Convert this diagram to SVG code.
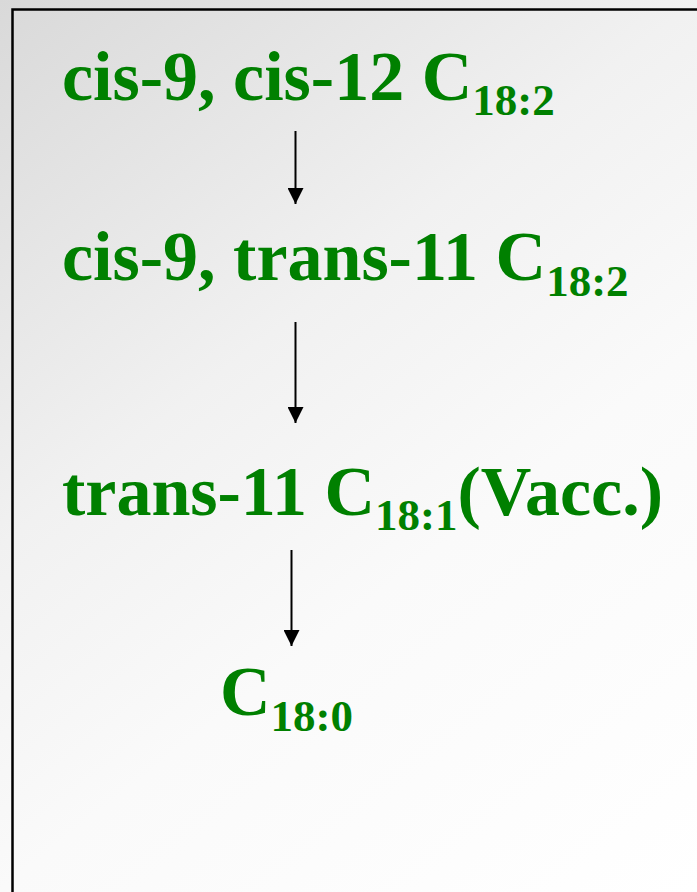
<svg xmlns="http://www.w3.org/2000/svg" width="697" height="892" viewBox="0 0 697 892">
<style>
.t{font-family:"Liberation Serif","Times New Roman",serif;font-weight:bold;font-size:70px;fill:#008000}
.s{font-size:45px}
.c{stroke:#000;stroke-width:2;fill:none}
</style>
<defs>
<linearGradient id="bg" gradientUnits="userSpaceOnUse" x1="0" y1="0" x2="697" y2="892">
<stop offset="0" stop-color="#d9d9d9"/>
<stop offset="0.38" stop-color="#f1f1f1"/>
<stop offset="0.62" stop-color="#fafafa"/>
<stop offset="1" stop-color="#ffffff"/>
</linearGradient>
<marker id="ah" viewBox="0 0 16 16" refX="16" refY="8" markerWidth="16" markerHeight="16" markerUnits="userSpaceOnUse" orient="auto">
<path d="M0,0 L16,8 L0,16 Z" fill="#000"/>
</marker>
</defs>
<rect x="0" y="0" width="697" height="892" fill="url(#bg)"/>
<path d="M12.5,900 L12.5,9.5 L700,9.5" stroke="#000" stroke-width="2.5" fill="none"/>
<g id="connectors">
<line class="c" x1="295.5" y1="131" x2="295.5" y2="204" marker-end="url(#ah)"/>
<line class="c" x1="295.5" y1="322" x2="295.5" y2="423" marker-end="url(#ah)"/>
<line class="c" x1="291.5" y1="550" x2="291.5" y2="646" marker-end="url(#ah)"/>
</g>
<g id="n1"><text class="t" x="62" y="100">cis-9, cis-12 C<tspan class="s" dy="15">18:2</tspan></text></g>
<g id="n2"><text class="t" x="62" y="280">cis-9, trans-11 C<tspan class="s" dy="16">18:2</tspan></text></g>
<g id="n3"><text class="t" x="62" y="515">trans-11 C<tspan class="s" dy="15">18:1</tspan><tspan dy="-15">(Vacc.)</tspan></text></g>
<g id="n4"><text class="t" x="220" y="715">C<tspan class="s" dy="16">18:0</tspan></text></g>
</svg>
